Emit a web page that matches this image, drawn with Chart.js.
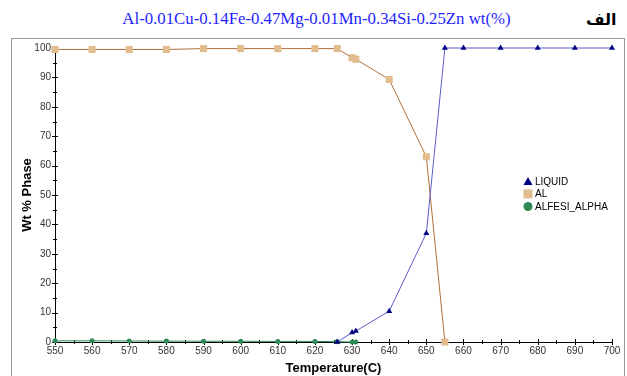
<!DOCTYPE html>
<html>
<head>
<meta charset="utf-8">
<script src="https://cdn.jsdelivr.net/npm/chart.js@4/dist/chart.umd.min.js"></script>
<style>
html, body { margin: 0; padding: 0; background: #fff; }
#wrap { position: relative; width: 627px; height: 376px; overflow: hidden; }
#title { position: absolute; left: 3px; top: 9px; width: 627px; text-align: center;
  font-family: "Liberation Serif", serif; font-size: 16.8px; color: #1f1fff; }
#alef { position: absolute; left: 586px; top: 10px; font-family: "DejaVu Sans", sans-serif;
  font-weight: bold; font-size: 16px; color: #000; }
#frame { position: absolute; left: 11px; top: 38px; width: 614px; height: 400px;
  border: 1px solid #9a9a9a; box-sizing: border-box; }
canvas { position: absolute; left: 0; top: 0; }
</style>
</head>
<body>
<div id="wrap">
  <div id="title">Al-0.01Cu-0.14Fe-0.47Mg-0.01Mn-0.34Si-0.25Zn wt(%)</div>
  <div id="alef" dir="rtl">الف</div>
  <div id="frame"></div>
  <canvas id="phaseChart" width="627" height="376"></canvas>
</div>
<script>
// temperature steps of the calculation
const temps = [550, 560, 570, 580, 590, 600, 610, 620, 626, 630, 631, 640, 650, 655, 660, 670, 680, 690, 700]

// wt % of each phase (null = phase not present)
const liquid = [null, null, null, null, null, null, null, null, 0, 3.2, 3.7, 10.5, 37, 100, 100, 100, 100, 100, 100]
const al = [99.5, 99.5, 99.5, 99.5, 99.8, 99.8, 99.8, 99.8, 99.8, 96.7, 96.2, 89.3, 63, 0, null, null, null, null, null]
const alfesi = [0.4, 0.4, 0.35, 0.3, 0.25, 0.25, 0.2, 0.2, 0.1, 0, 0, null, null, null, null, null, null, null, null]

const xTicks = [550, 560, 570, 580, 590, 600, 610, 620, 630, 640, 650, 660, 670, 680, 690, 700]
const yTicks = [0, 10, 20, 30, 40, 50, 60, 70, 80, 90, 100]

const toPoints = (vals) => temps.map((t, i) => ({ x: t, y: vals[i] }))

const drawMarker = (ctx, style, x, y, r, color) => {
    ctx.fillStyle = color
    ctx.beginPath()
    if (style === 'triangle') {
        ctx.moveTo(x, y - r)
        ctx.lineTo(x + r, y + r * 0.8)
        ctx.lineTo(x - r, y + r * 0.8)
        ctx.closePath()
    } else if (style === 'rect') {
        ctx.rect(x - r, y - r, 2 * r, 2 * r)
    } else {
        ctx.arc(x, y, r, 0, Math.PI * 2)
    }
    ctx.fill()
}

// axis tick marks crossing the axes, major every 10 and minor every 5
const crossTicks = {
    id: 'crossTicks',
    beforeDatasetsDraw(chart) {
        const { ctx, scales: { x, y } } = chart
        ctx.save()
        ctx.strokeStyle = '#000'
        ctx.lineWidth = 1
        ctx.beginPath()
        for (let v = 550; v <= 700; v += 5) {
            const px = Math.round(x.getPixelForValue(v)) + 0.5
            const len = v % 10 === 0 ? 3 : 2
            ctx.moveTo(px, y.bottom - len)
            ctx.lineTo(px, y.bottom + len)
        }
        for (let v = 0; v <= 100; v += 5) {
            const py = Math.round(y.getPixelForValue(v)) + 0.5
            const len = v % 10 === 0 ? 3 : 2
            ctx.moveTo(x.left - len, py)
            ctx.lineTo(x.left + len, py)
        }
        ctx.stroke()
        ctx.restore()
    }
}

// legend drawn inside the plot like the original software does
const innerLegend = {
    id: 'innerLegend',
    afterDatasetsDraw(chart) {
        const { ctx } = chart
        ctx.save()
        ctx.font = '10px "Liberation Sans", Arial, sans-serif'
        ctx.textBaseline = 'middle'
        chart.data.datasets.forEach((ds, i) => {
            const yy = 181.5 + i * 12.5
            drawMarker(ctx, ds.pointStyle, 528, yy, ds.legendRadius, ds.pointBackgroundColor)
            ctx.fillStyle = '#000'
            ctx.fillText(ds.label, 535, yy + 0.5)
        })
        ctx.restore()
    }
}

const tickFont = { family: '"Liberation Sans", Arial, sans-serif', size: 10 }

new Chart(document.getElementById('phaseChart'), {
    type: 'line',
    data: {
        datasets: [{
            label: 'LIQUID',
            data: toPoints(liquid),
            borderColor: '#5a5ac8',
            borderWidth: 1,
            pointStyle: 'triangle',
            pointRadius: 3.5,
            legendRadius: 4.5,
            pointBackgroundColor: '#000080',
            pointBorderColor: '#000080',
            pointBorderWidth: 0,
            clip: false,
        }, {
            label: 'AL',
            data: toPoints(al),
            borderColor: '#b0703a',
            borderWidth: 1,
            pointStyle: 'rect',
            pointRadius: 5,
            legendRadius: 4.5,
            pointBackgroundColor: '#e2bc8c',
            pointBorderColor: '#e2bc8c',
            pointBorderWidth: 0,
            clip: false,
        }, {
            label: 'ALFESI_ALPHA',
            data: toPoints(alfesi),
            borderColor: '#2e8b57',
            borderWidth: 1,
            pointStyle: 'circle',
            pointRadius: 2.5,
            legendRadius: 4.5,
            pointBackgroundColor: '#2e8b57',
            pointBorderColor: '#2e8b57',
            pointBorderWidth: 0,
            clip: false,
        }]
    },
    options: {
        responsive: false,
        animation: false,
        events: [],
        layout: { padding: { top: 48, right: 15, left: 0, bottom: 0 } },
        plugins: {
            legend: { display: false },
            tooltip: { enabled: false },
        },
        scales: {
            x: {
                type: 'linear',
                min: 550,
                max: 700,
                afterFit: (scale) => { scale.height = 34 },
                afterBuildTicks: (scale) => { scale.ticks = xTicks.map(v => ({ value: v })) },
                grid: { display: false, drawTicks: false },
                border: { display: true, color: '#000', width: 1 },
                ticks: { padding: 3, color: '#333', font: tickFont, maxRotation: 0, autoSkip: false },
                title: {
                    display: true,
                    text: 'Temperature(C)',
                    color: '#000',
                    padding: { top: 1, bottom: 0 },
                    font: { family: '"Liberation Sans", Arial, sans-serif', size: 13, weight: 'bold' }
                }
            },
            y: {
                min: 0,
                max: 100,
                afterFit: (scale) => { scale.width = 55 },
                afterBuildTicks: (scale) => { scale.ticks = yTicks.map(v => ({ value: v })) },
                grid: { display: false, drawTicks: false },
                border: { display: true, color: '#000', width: 1 },
                ticks: { padding: 4, color: '#333', font: tickFont },
                title: {
                    display: true,
                    text: 'Wt % Phase',
                    color: '#000',
                    padding: { top: 20, bottom: 0 },
                    font: { family: '"Liberation Sans", Arial, sans-serif', size: 13, weight: 'bold' }
                }
            }
        }
    },
    plugins: [crossTicks, innerLegend]
});
</script>
</body>
</html>
